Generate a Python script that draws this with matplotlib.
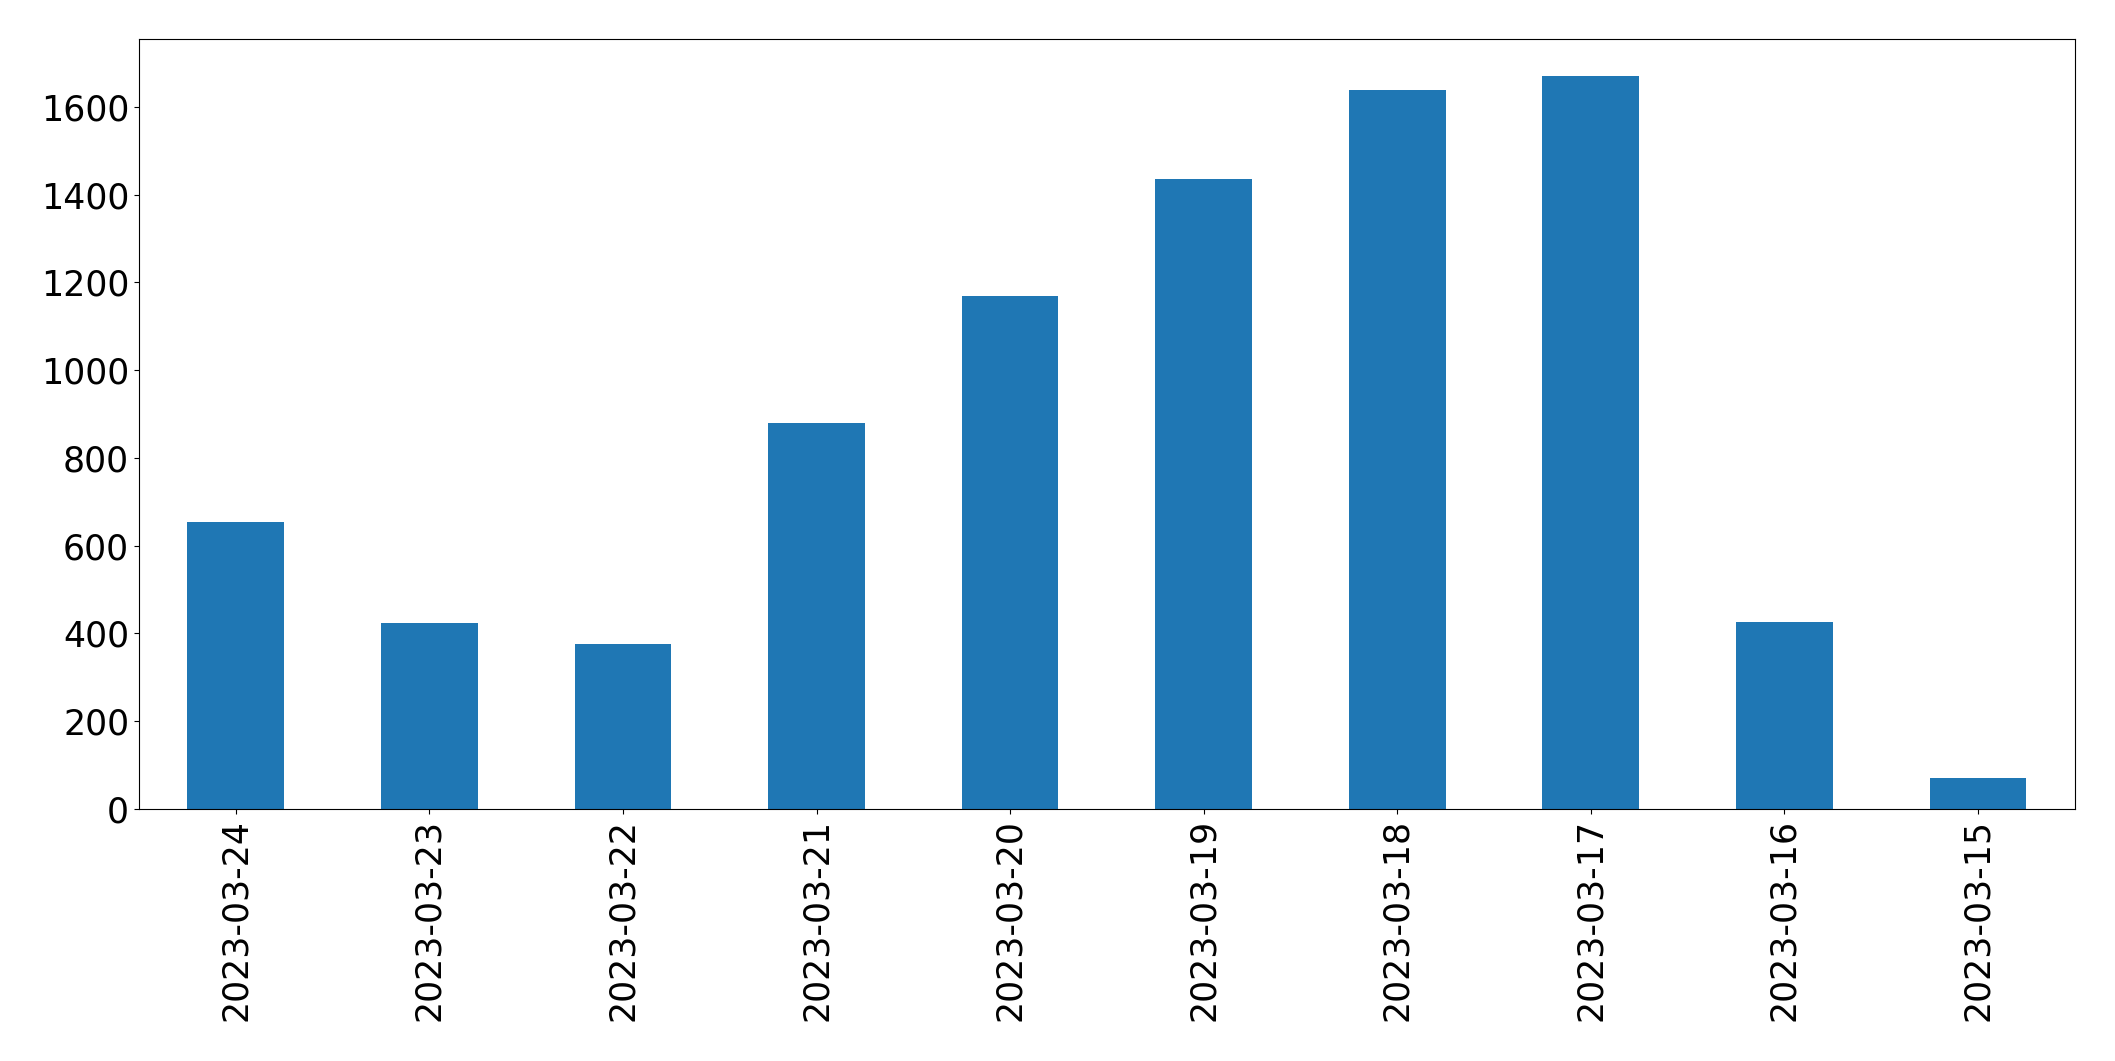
import matplotlib
matplotlib.use("Agg")
import matplotlib.pyplot as plt
import numpy as np

# daily counts, newest first (as in the reference)
dates = ['2023-03-24', '2023-03-23', '2023-03-22', '2023-03-21', '2023-03-20',
         '2023-03-19', '2023-03-18', '2023-03-17', '2023-03-16', '2023-03-15']
counts = [655, 423, 375, 880, 1170, 1436, 1638, 1670, 427, 70]

fig = plt.figure(figsize=(21.15, 10.61), dpi=100)
ax = fig.add_subplot(111)
fig.subplots_adjust(left=0.0657, right=0.981, top=0.9628, bottom=0.2375)

x = np.arange(len(dates))
ax.bar(x, counts, width=0.5, color='#1f77b4')
ax.set_xlim(-0.5, len(dates) - 0.5)
ax.set_xticks(x)
ax.set_xticklabels(dates, rotation=90)
ax.tick_params(axis='both', labelsize=25)

fig.savefig("out.png", dpi=100)
